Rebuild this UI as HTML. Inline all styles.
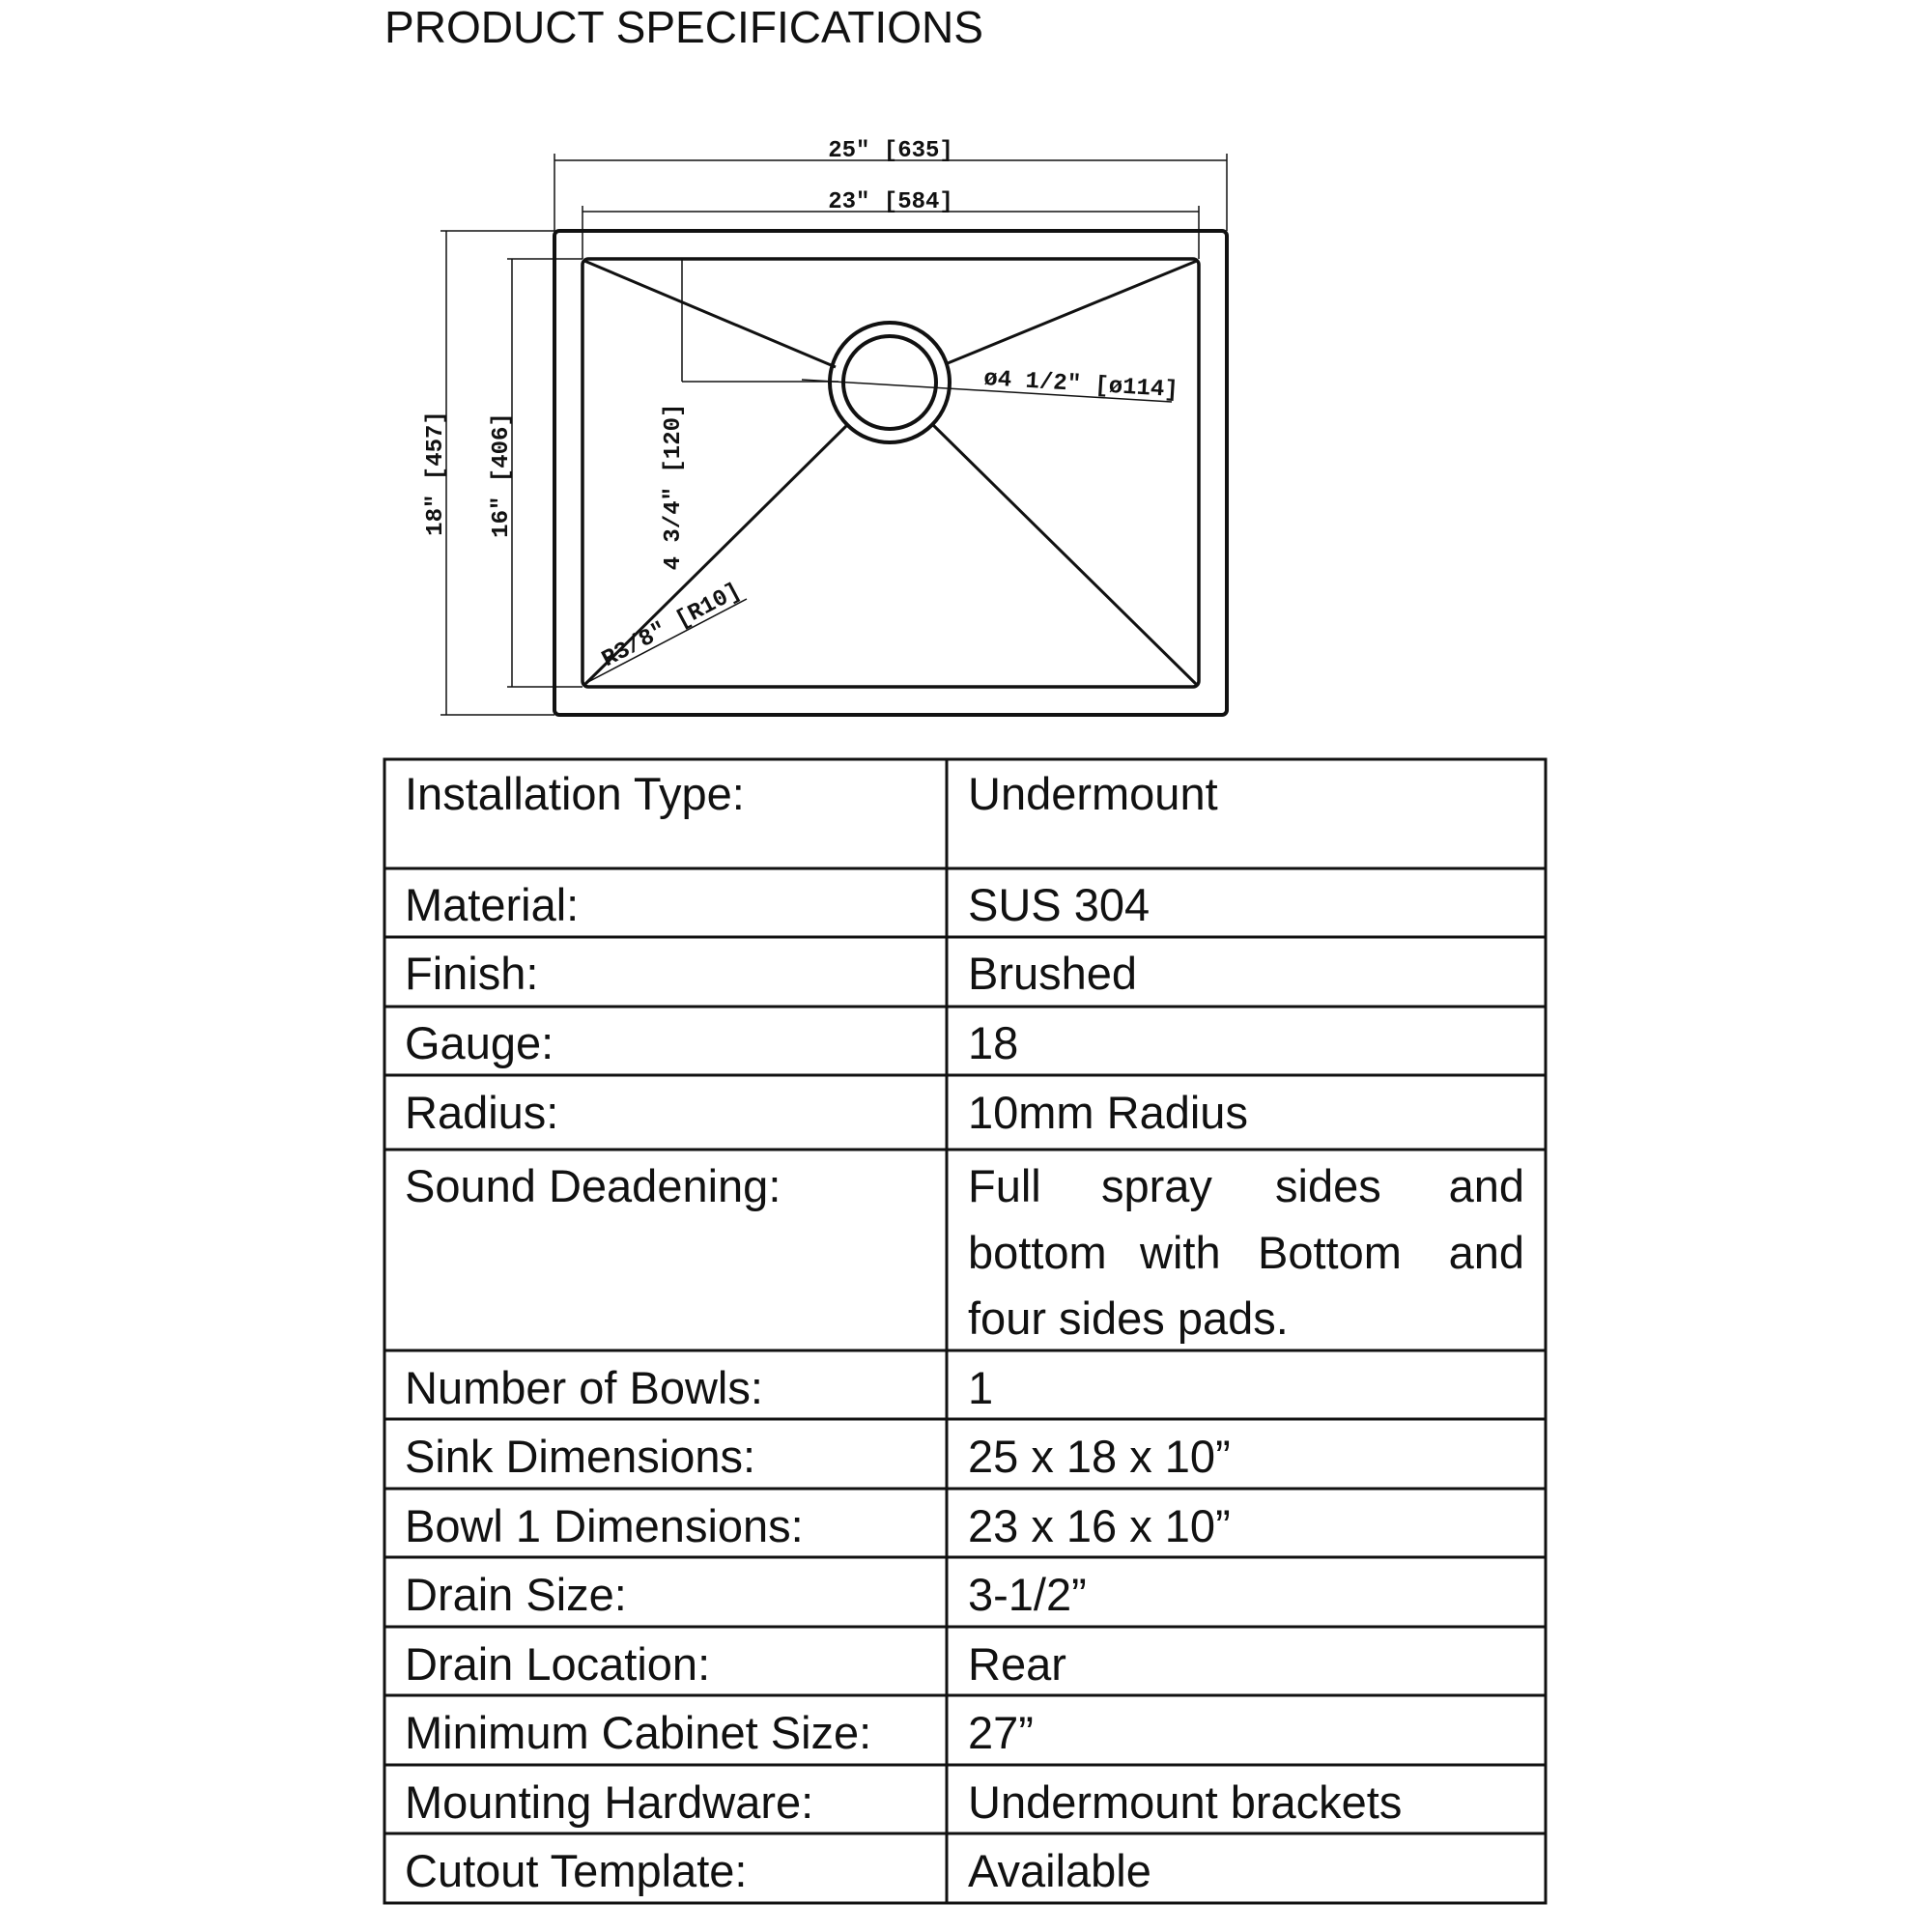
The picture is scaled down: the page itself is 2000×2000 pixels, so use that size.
<!DOCTYPE html>
<html><head><meta charset="utf-8"><style>
html,body{margin:0;padding:0;background:#fff;}
body{width:2000px;height:2000px;position:relative;overflow:hidden;}
svg{position:absolute;left:0;top:0;}
</style></head><body>
<svg width="2000" height="2000" viewBox="0 0 2000 2000" xmlns="http://www.w3.org/2000/svg">
<text x="398" y="44" font-family="Liberation Sans, sans-serif" font-size="46" fill="#111" textLength="620" lengthAdjust="spacingAndGlyphs">PRODUCT SPECIFICATIONS</text>
<g stroke="#111" fill="none">
<rect x="574" y="239" width="696" height="501" rx="5" stroke-width="4"/>
<rect x="603" y="268" width="638" height="443" rx="6" stroke-width="3.5"/>
<circle cx="921" cy="396" r="62" stroke-width="4"/>
<circle cx="921" cy="396" r="48" stroke-width="4"/>
<line x1="605" y1="270" x2="865" y2="380" stroke-width="3"/>
<line x1="1239" y1="270" x2="981" y2="376" stroke-width="3"/>
<line x1="605" y1="709" x2="877" y2="440" stroke-width="3"/>
<line x1="1239" y1="709" x2="966" y2="440" stroke-width="3"/>
<g stroke-width="1.5">
<line x1="574" y1="159" x2="574" y2="239"/><line x1="1270" y1="159" x2="1270" y2="239"/>
<line x1="574" y1="166" x2="1270" y2="166"/>
<line x1="603" y1="213" x2="603" y2="268"/><line x1="1241" y1="213" x2="1241" y2="268"/>
<line x1="603" y1="219" x2="1241" y2="219"/>
<line x1="456" y1="239" x2="574" y2="239"/><line x1="456" y1="740" x2="574" y2="740"/>
<line x1="462" y1="239" x2="462" y2="740"/>
<line x1="525" y1="268" x2="603" y2="268"/><line x1="525" y1="711" x2="603" y2="711"/>
<line x1="530" y1="268" x2="530" y2="711"/>
<line x1="706" y1="268" x2="706" y2="395"/>
<line x1="706" y1="395" x2="868" y2="395"/>
<line x1="830" y1="393" x2="1213" y2="416"/>
<line x1="603" y1="709" x2="773" y2="620"/>
</g>
</g>
<g font-family="Liberation Mono, monospace" font-weight="bold" font-size="24" fill="#111">
<text x="922" y="162" text-anchor="middle">25" [635]</text>
<text x="922" y="215" text-anchor="middle">23" [584]</text>
<text transform="translate(457,490) rotate(-90)" text-anchor="middle">18" [457]</text>
<text transform="translate(525,492) rotate(-90)" text-anchor="middle">16" [406]</text>
<text transform="translate(703,504) rotate(-90)" text-anchor="middle">4 3/4" [120]</text>
<text transform="translate(1018,398) rotate(3.5)">ø4 1/2" [ø114]</text>
<text transform="translate(628,690) rotate(-28)">R3/8" [R10]</text>
</g>
<g stroke="#111" stroke-width="3">
<rect x="398" y="786" width="1202" height="1184" fill="none"/>
<line x1="980" y1="786" x2="980" y2="1970"/>
<line x1="398" y1="899" x2="1600" y2="899"/>
<line x1="398" y1="970" x2="1600" y2="970"/>
<line x1="398" y1="1042" x2="1600" y2="1042"/>
<line x1="398" y1="1113" x2="1600" y2="1113"/>
<line x1="398" y1="1190" x2="1600" y2="1190"/>
<line x1="398" y1="1398" x2="1600" y2="1398"/>
<line x1="398" y1="1469" x2="1600" y2="1469"/>
<line x1="398" y1="1541" x2="1600" y2="1541"/>
<line x1="398" y1="1612" x2="1600" y2="1612"/>
<line x1="398" y1="1684" x2="1600" y2="1684"/>
<line x1="398" y1="1755" x2="1600" y2="1755"/>
<line x1="398" y1="1827" x2="1600" y2="1827"/>
<line x1="398" y1="1898" x2="1600" y2="1898"/>
</g>
<g font-family="Liberation Sans, sans-serif" font-size="47" fill="#111">
<text x="419" y="838">Installation Type:</text><text x="1002" y="838">Undermount</text>
<text x="419" y="953">Material:</text><text x="1002" y="953">SUS 304</text>
<text x="419" y="1024">Finish:</text><text x="1002" y="1024">Brushed</text>
<text x="419" y="1096">Gauge:</text><text x="1002" y="1096">18</text>
<text x="419" y="1168">Radius:</text><text x="1002" y="1168">10mm Radius</text>
<text x="419" y="1244">Sound Deadening:</text>
<text x="1002" y="1244">Full</text><text x="1140" y="1244">spray</text><text x="1320" y="1244">sides</text><text x="1578" y="1244" text-anchor="end">and</text>
<text x="1002" y="1313">bottom</text><text x="1180" y="1313">with</text><text x="1302" y="1313">Bottom</text><text x="1578" y="1313" text-anchor="end">and</text>
<text x="1002" y="1381">four sides pads.</text>
<text x="419" y="1453">Number of Bowls:</text><text x="1002" y="1453">1</text>
<text x="419" y="1524">Sink Dimensions:</text><text x="1002" y="1524">25 x 18 x 10”</text>
<text x="419" y="1596">Bowl 1 Dimensions:</text><text x="1002" y="1596">23 x 16 x 10”</text>
<text x="419" y="1667">Drain Size:</text><text x="1002" y="1667">3-1/2”</text>
<text x="419" y="1739">Drain Location:</text><text x="1002" y="1739">Rear</text>
<text x="419" y="1810">Minimum Cabinet Size:</text><text x="1002" y="1810">27”</text>
<text x="419" y="1882">Mounting Hardware:</text><text x="1002" y="1882">Undermount brackets</text>
<text x="419" y="1953">Cutout Template:</text><text x="1002" y="1953">Available</text>
</g>
</svg>
</body></html>
